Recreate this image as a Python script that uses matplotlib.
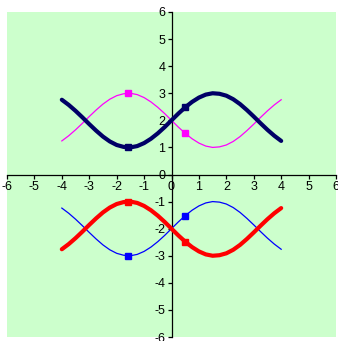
import matplotlib
matplotlib.use("Agg")
import matplotlib.pyplot as plt

x = [-4.0, -3.75, -3.5, -3.25, -3.0, -2.75, -2.5, -2.25, -2.0, -1.75, -1.5, -1.25,
     -1.0, -0.75, -0.5, -0.25, 0.0, 0.25, 0.5, 0.75, 1.0, 1.25, 1.5, 1.75,
     2.0, 2.25, 2.5, 2.75, 3.0, 3.25, 3.5, 3.75, 4.0]
navy = [2.76, 2.57, 2.35, 2.11, 1.86, 1.62, 1.40, 1.22, 1.09, 1.02, 1.00, 1.05,
        1.16, 1.32, 1.52, 1.75, 2.00, 2.25, 2.48, 2.68, 2.84, 2.95, 3.00, 2.98,
        2.91, 2.78, 2.60, 2.38, 2.14, 1.89, 1.65, 1.43, 1.24]
magenta = [1.24, 1.43, 1.65, 1.89, 2.14, 2.38, 2.60, 2.78, 2.91, 2.98, 3.00, 2.95,
           2.84, 2.68, 2.48, 2.25, 2.00, 1.75, 1.52, 1.32, 1.16, 1.05, 1.00, 1.02,
           1.09, 1.22, 1.40, 1.62, 1.86, 2.11, 2.35, 2.57, 2.76]
red = [-2.76, -2.57, -2.35, -2.11, -1.86, -1.62, -1.40, -1.22, -1.09, -1.02, -1.00, -1.05,
       -1.16, -1.32, -1.52, -1.75, -2.00, -2.25, -2.48, -2.68, -2.84, -2.95, -3.00, -2.98,
       -2.91, -2.78, -2.60, -2.38, -2.14, -1.89, -1.65, -1.43, -1.24]
blue = [-1.24, -1.43, -1.65, -1.89, -2.14, -2.38, -2.60, -2.78, -2.91, -2.98, -3.00, -2.95,
        -2.84, -2.68, -2.48, -2.25, -2.00, -1.75, -1.52, -1.32, -1.16, -1.05, -1.00, -1.02,
        -1.09, -1.22, -1.40, -1.62, -1.86, -2.11, -2.35, -2.57, -2.76]

mark_x = [-1.57, 0.5]
navy_marks = [1.0, 2.48]
magenta_marks = [3.0, 1.52]
red_marks = [-1.0, -2.48]
blue_marks = [-3.0, -1.52]

ticks = [-6, -5, -4, -3, -2, -1, 0, 1, 2, 3, 4, 5, 6]

plt.rcParams['font.family'] = ['Liberation Sans', 'DejaVu Sans']

fig = plt.figure(figsize=(3.38, 3.41), dpi=100)
ax = fig.add_axes([7/338, 4/341, 329/338, 325/341])
ax.set_facecolor('#CCFFCC')

ax.plot(x, magenta, color='#FF00FF', lw=0.9, zorder=3)
ax.plot(x, blue, color='#0000FF', lw=0.9, zorder=3)
ax.plot(x, navy, color='#000066', lw=3.0, zorder=4, solid_capstyle='round')
ax.plot(x, red, color='#FF0000', lw=3.0, zorder=4, solid_capstyle='round')

ax.plot(mark_x, magenta_marks, ls='none', marker='s', ms=5, color='#FF00FF', zorder=5)
ax.plot(mark_x, blue_marks, ls='none', marker='s', ms=5, color='#0000FF', zorder=5)
ax.plot(mark_x, navy_marks, ls='none', marker='s', ms=5, color='#000066', zorder=5)
ax.plot(mark_x, red_marks, ls='none', marker='s', ms=5, color='#FF0000', zorder=5)

ax.set_xlim(-6, 6)
ax.set_ylim(-6, 6)
ax.spines['left'].set_position('zero')
ax.spines['bottom'].set_position('zero')
ax.spines['top'].set_visible(False)
ax.spines['right'].set_visible(False)
for s in ('left', 'bottom'):
    ax.spines[s].set_linewidth(0.9)
    ax.spines[s].set_color('black')
ax.set_xticks(ticks)
ax.set_yticks(ticks)
ax.set_xticklabels([str(t) for t in ticks])
ax.set_yticklabels([str(t) for t in ticks])
ax.tick_params(axis='both', direction='out', length=3, width=0.9, labelsize=9,
               pad=1.5, colors='black')
for lab in ax.get_xticklabels() + ax.get_yticklabels():
    lab.set_clip_on(False)

fig.savefig('out.png', dpi=100, facecolor='white')
